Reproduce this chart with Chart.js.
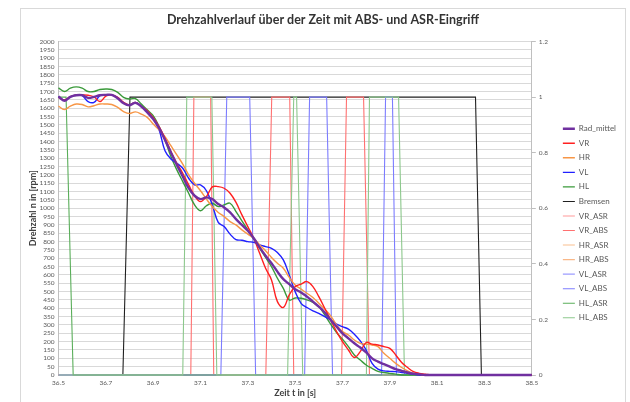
<!DOCTYPE html>
<html>
<head>
<meta charset="utf-8">
<script src="https://cdn.jsdelivr.net/npm/chart.js@4.4.1/dist/chart.umd.min.js"></script>
<style>
html,body{margin:0;padding:0;background:#fff;}
#wrap{width:630px;height:402px;position:relative;}
</style>
</head>
<body>
<div id="wrap"><canvas id="c" width="630" height="402"></canvas></div>
<script>
// ---------- texts ----------
const chartTitle = 'Drehzahlverlauf über der Zeit mit ABS- und ASR-Eingriff';
const xTitle = 'Zeit t in [s]';
const yTitle = 'Drehzahl n in [rpm]';

// ---------- tick labels ----------
const xTicks = [36.5, 36.7, 36.9, 37.1, 37.3, 37.5, 37.7, 37.9, 38.1, 38.3, 38.5];

// ---------- time base of the speed series [s] ----------
const time = [36.5, 36.525, 36.55, 36.575, 36.6, 36.625, 36.65, 36.675, 36.7, 36.725,
  36.75, 36.775, 36.8, 36.825, 36.85, 36.875, 36.9, 36.925, 36.95, 36.975,
  37.0, 37.025, 37.05, 37.075, 37.1, 37.125, 37.15, 37.175, 37.2, 37.225,
  37.25, 37.275, 37.3, 37.325, 37.35, 37.375, 37.4, 37.425, 37.45, 37.475,
  37.5, 37.525, 37.55, 37.575, 37.6, 37.625, 37.65, 37.675, 37.7, 37.725,
  37.75, 37.775, 37.8, 37.825, 37.85, 37.875, 37.9, 37.925, 37.95, 37.975,
  38.0, 38.025, 38.05, 38.075, 38.1, 38.2, 38.3, 38.4, 38.5];

// ---------- wheel speeds [rpm] ----------
const radMittel = [1670, 1645, 1668, 1678, 1678, 1662, 1668, 1678, 1680, 1680,
  1660, 1630, 1618, 1632, 1610, 1575, 1535, 1480, 1410, 1335,
  1260, 1190, 1120, 1075, 1055, 1065, 1055, 1025, 1005, 975,
  935, 900, 865, 820, 765, 715, 670, 620, 575, 545,
  515, 495, 470, 440, 410, 375, 330, 290, 250, 220,
  190, 165, 135, 100, 80, 65, 50, 35, 25, 15,
  8, 4, 0, 0, 0, 0, 0, 0, 0];
const vr = [1665, 1650, 1670, 1680, 1680, 1678, 1668, 1640, 1672, 1680,
  1665, 1635, 1620, 1635, 1612, 1585, 1545, 1490, 1420, 1340,
  1270, 1210, 1140, 1075, 1040, 1070, 1128, 1130, 1120, 1090,
  1035, 960, 890, 820, 730, 640, 570, 440, 405, 480,
  530, 545, 560, 530, 470, 400, 330, 260, 200, 150,
  105, 140, 195, 185, 180, 170, 160, 120, 75, 45,
  20, 10, 5, 0, 0, 0, 0, 0, 0];
const hr = [1612, 1592, 1612, 1625, 1622, 1608, 1615, 1625, 1625, 1622,
  1605, 1580, 1568, 1578, 1565, 1545, 1505, 1470, 1430, 1375,
  1320, 1265, 1200, 1150, 1105, 1055, 1010, 975, 950, 920,
  900, 870, 845, 820, 780, 745, 705, 670, 640, 585,
  540, 515, 490, 465, 430, 395, 355, 300, 260, 240,
  210, 190, 185, 180, 170, 130, 100, 70, 45, 25,
  10, 5, 0, 0, 0, 0, 0, 0, 0];
const vl = [1670, 1648, 1668, 1680, 1675, 1640, 1635, 1675, 1680, 1680,
  1662, 1632, 1620, 1635, 1612, 1580, 1540, 1470, 1345, 1295,
  1270, 1240, 1180, 1140, 1140, 1105, 1020, 915, 890, 845,
  812, 808, 800, 795, 780, 770, 760, 735, 690, 600,
  500, 430, 405, 385, 370, 350, 330, 305, 290, 275,
  245, 205, 150, 70, 35, 25, 22, 20, 15, 10,
  5, 0, 0, 0, 0, 0, 0, 0, 0];
const hl = [1722, 1700, 1720, 1728, 1720, 1700, 1700, 1712, 1715, 1712,
  1695, 1665, 1655, 1658, 1625, 1590, 1555, 1490, 1410, 1310,
  1230, 1160, 1090, 1020, 985, 1015, 1030, 1010, 1020, 1030,
  980, 925, 870, 815, 760, 705, 650, 580, 520, 450,
  462, 460, 450, 435, 410, 360, 305, 255, 215, 170,
  120, 90, 60, 40, 22, 15, 10, 5, 0, 0,
  0, 0, 0, 0, 0, 0, 0, 0, 0];

// ---------- on/off signals (right axis) ----------
const bremsenT = [36.5, 36.772, 36.802, 38.262, 38.287, 38.5];
const bremsenV = [0, 0, 1, 1, 0, 0];
const hlAsrT = [36.5, 36.532, 36.562, 38.5];
const hlAsrV = [1, 1, 0, 0];
const hlAbsT = [36.5, 37.025, 37.042, 37.148, 37.169, 37.468, 37.494, 37.506, 37.532, 37.801, 37.814, 37.937, 37.962, 38.5];
const hlAbsV = [0, 0, 1, 1, 0, 0, 1, 1, 0, 0, 1, 1, 0, 0];
const vrAbsT = [36.5, 37.059, 37.072, 37.143, 37.156, 37.376, 37.401, 37.477, 37.494, 37.696, 37.717, 37.789, 37.814, 38.5];
const vrAbsV = [0, 0, 1, 1, 0, 0, 1, 1, 0, 0, 1, 1, 0, 0];
const vlAbsT = [36.5, 37.186, 37.211, 37.308, 37.333, 37.540, 37.561, 37.633, 37.658, 37.865, 37.882, 37.911, 37.928, 38.5];
const vlAbsV = [0, 0, 1, 1, 0, 0, 1, 1, 0, 0, 1, 1, 0, 0];
const offT = [36.5, 38.5];
const offV = [0, 0];

// ---------- helpers ----------
const pts = (xs, ys) => xs.map((x, i) => ({x: x, y: ys[i]}));
function speed(label, vals, color, w, order) {
  return {label, data: pts(time, vals), borderColor: color, backgroundColor: color,
    borderWidth: w, pointRadius: 0, tension: 0.4, yAxisID: 'y', fill: false, order, clip: 4};
}
function flag(label, ts, vs, color, order) {
  return {label, data: pts(ts, vs), borderColor: color, backgroundColor: color,
    borderWidth: 1.1, pointRadius: 0, tension: 0, yAxisID: 'y1', fill: false, order, clip: 4};
}

const datasets = [
  speed('Rad_mittel', radMittel, '#7030A0', 2.4, 1),
  speed('VR', vr, '#FF2020', 1.4, 2),
  speed('HR', hr, '#F79646', 1.4, 3),
  speed('VL', vl, '#2020FF', 1.4, 4),
  speed('HL', hl, '#3A9A3A', 1.4, 5),
  flag('Bremsen', bremsenT, bremsenV, '#202020', 14),
  flag('VR_ASR', offT, offV, '#FF9A9A', 13),
  flag('VR_ABS', vrAbsT, vrAbsV, '#FF7070', 12),
  flag('HR_ASR', offT, offV, '#FAC090', 11),
  flag('HR_ABS', offT, offV, '#F9B888', 10),
  flag('VL_ASR', offT, offV, '#9C9CFF', 9),
  flag('VL_ABS', vlAbsT, vlAbsV, '#7C7CFF', 8),
  flag('HL_ASR', hlAsrT, hlAsrV, '#5AAE5A', 7),
  flag('HL_ABS', hlAbsT, hlAbsV, '#8CC88C', 6)
];

const frame = {
  id: 'frame',
  beforeDraw(c) {
    const ctx = c.ctx;
    ctx.save();
    ctx.fillStyle = '#fff';
    ctx.fillRect(0, 0, c.width, c.height);
    ctx.strokeStyle = '#D9D9D9';
    ctx.lineWidth = 1;
    ctx.strokeRect(20.5, 8.5, 605, 400);
    ctx.restore();
  }
};

const tickFont = {family: 'Lato', size: 6.5};
new Chart(document.getElementById('c'), {
  type: 'line',
  data: {datasets},
  plugins: [frame],
  options: {
    responsive: false,
    animation: false,
    devicePixelRatio: 1,
    layout: {padding: {left: 20, right: 4, top: 12.5, bottom: 0}},
    plugins: {
      title: {display: true, text: chartTitle, color: '#333333',
        font: {family: 'Lato', size: 12.5, weight: 'bold'}, padding: {top: 0, bottom: 14}},
      legend: {position: 'right', align: 'center',
        title: {display: true, text: ' ', font: {size: 1}, padding: {top: 30.8, bottom: 0}},
        labels: {usePointStyle: true, pointStyle: 'line', pointStyleWidth: 12, boxHeight: 8,
          font: {family: 'Lato', size: 8}, color: '#595959', padding: 6.54,
          sort: (a, b) => a.datasetIndex - b.datasetIndex}},
      tooltip: {enabled: false}
    },
    scales: {
      x: {
        type: 'linear', min: 36.5, max: 38.5,
        afterBuildTicks: s => { s.ticks = xTicks.map(v => ({value: v})); },
        ticks: {callback: v => Number(v).toFixed(1), font: tickFont, color: '#595959',
          padding: 4.5, maxRotation: 0, autoSkip: false},
        grid: {display: true, drawOnChartArea: false, drawTicks: false},
        border: {display: true, color: '#BFBFBF'},
        title: {display: true, text: xTitle, color: '#404040',
          font: {family: 'Lato', size: 9, weight: 'bold'}, padding: {top: 0, bottom: 3.6}},
        afterFit: s => { s.height = 27; }
      },
      y: {
        position: 'left', min: 0, max: 2000,
        ticks: {stepSize: 50, autoSkip: false, font: tickFont, color: '#595959', padding: 4,
          callback: v => String(v)},
        grid: {color: '#D9D9D9', lineWidth: 1, drawTicks: false},
        border: {display: true, color: '#BFBFBF'},
        title: {display: true, text: yTitle, color: '#404040',
          font: {family: 'Lato', size: 9, weight: 'bold'}, padding: {top: 7.6, bottom: 0}},
        afterFit: s => { s.width = 38.5; }
      },
      y1: {
        position: 'right', min: 0, max: 1.2,
        ticks: {stepSize: 0.2, font: tickFont, color: '#595959', padding: 3,
          callback: v => String(Math.round(v * 10) / 10)},
        grid: {drawOnChartArea: false, drawTicks: true, tickLength: 4, color: '#BFBFBF'},
        border: {display: true, color: '#BFBFBF'},
        afterFit: s => { s.width = 24.5; }
      }
    }
  }
});
</script>
</body>
</html>
